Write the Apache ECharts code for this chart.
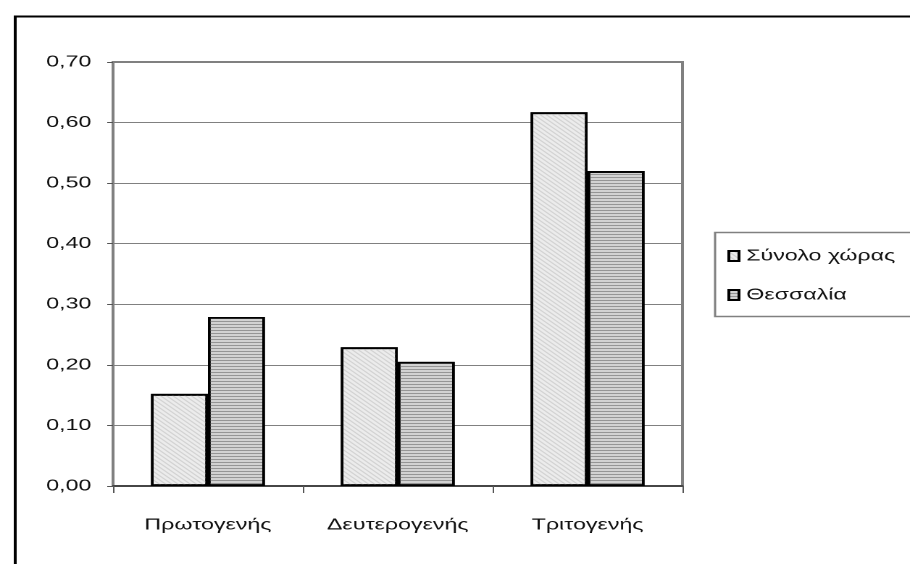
<!DOCTYPE html>
<html><head><meta charset="utf-8">
<script src="https://cdn.jsdelivr.net/npm/echarts@6/dist/echarts.min.js"></script>
<style>
html,body{margin:0;padding:0;background:#fff;overflow:hidden}
#wrap{width:910px;height:564px;overflow:hidden;position:relative}
#c{width:628px;height:564px;transform:scaleX(1.449);transform-origin:0 0;position:absolute;left:0;top:0}
</style>
</head><body><div id="wrap"><div id="c"></div></div>
<script>
var categories = ['Πρωτογενής', 'Δευτερογενής', 'Τριτογενής'];
var seriesNames = ['Σύνολο χώρας', 'Θεσσαλία'];
var totalCountry = [0.152, 0.229, 0.617];
var thessaly = [0.279, 0.205, 0.520];

var chart = echarts.init(document.getElementById('c'), null, {renderer: 'canvas', devicePixelRatio: 2});
var font = '"Liberation Sans", Arial, sans-serif';
chart.setOption({
  animation: false,
  backgroundColor: '#fff',
  textStyle: {fontFamily: font},
  graphic: [
    {type: 'rect', left: 8, top: 14, shape: {width: 700, height: 570}, style: {fill: 'none', stroke: '#000', lineWidth: 2}, silent: true},
    {type: 'rect', left: 491, top: 230, shape: {width: 160, height: 84}, style: {fill: 'none', stroke: '#808080', lineWidth: 1.5}, silent: true, z: 10}
  ],
  grid: {left: 78, right: 157, top: 62, bottom: 78, show: true, borderColor: '#808080', borderWidth: 2, backgroundColor: 'transparent'},
  legend: {
    orient: 'vertical', left: 497, top: 243, itemWidth: 7, itemHeight: 10, itemGap: 23,
    icon: 'rect',
    textStyle: {fontSize: 16, color: '#111', fontFamily: font, padding: [0, 0, 0, 0]},
    data: seriesNames
  },
  xAxis: {
    type: 'category', data: categories,
    axisLine: {lineStyle: {color: '#333', width: 1.5}},
    axisTick: {show: true, length: 7, lineStyle: {color: '#555'}},
    axisLabel: {fontSize: 16, color: '#111', margin: 31, fontFamily: font},
    splitLine: {show: false}
  },
  yAxis: {
    type: 'value', min: 0, max: 0.7, interval: 0.1,
    axisLine: {show: true, lineStyle: {color: '#808080', width: 1.5}},
    axisTick: {show: true, length: 4, lineStyle: {color: '#555'}},
    axisLabel: {fontSize: 16, color: '#111', margin: 15, fontFamily: font,
      formatter: function (v) { return v.toFixed(2).replace('.', ','); }},
    splitLine: {lineStyle: {color: '#808080', width: 1}}
  },
  series: [
    {
      name: seriesNames[0], type: 'bar', data: totalCountry,
      barGap: '0%', barCategoryGap: '40%',
      itemStyle: {color: '#ececec', borderColor: '#000', borderWidth: 1.8,
        decal: {symbol: 'rect', symbolSize: 1, dashArrayX: [1, 0], dashArrayY: [1, 2], rotation: Math.PI / 4, color: '#d2d2d2'}}
    },
    {
      name: seriesNames[1], type: 'bar', data: thessaly,
      itemStyle: {color: '#d2d2d2', borderColor: '#000', borderWidth: 1.8,
        decal: {symbol: 'rect', symbolSize: 1, dashArrayX: [1, 0], dashArrayY: [1, 2], rotation: 0, color: '#959595'}}
    }
  ]
});
</script></body></html>
